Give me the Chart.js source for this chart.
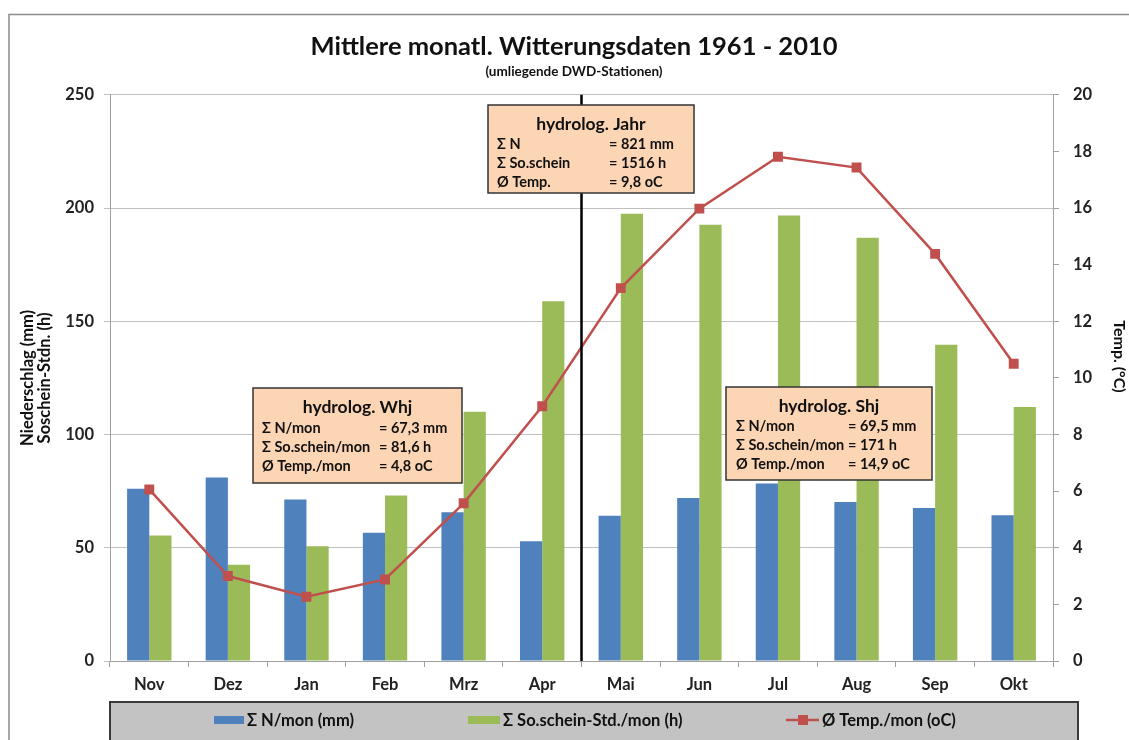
<!DOCTYPE html>
<html>
<head>
<meta charset="utf-8">
<script src="https://cdn.jsdelivr.net/npm/chart.js@4.4.1/dist/chart.umd.min.js"></script>
<style>
  html, body { margin: 0; padding: 0; background: #fff; }
  #wrap { width: 1129px; height: 740px; }
</style>
</head>
<body>
<div id="wrap"><canvas id="chart" width="1129" height="740"></canvas></div>
<script>
// hydrologisches Jahr, Nov - Okt
const months = ['Nov', 'Dez', 'Jan', 'Feb', 'Mrz', 'Apr', 'Mai', 'Jun', 'Jul', 'Aug', 'Sep', 'Okt'];
const niederschlag = [76.1, 81.0, 71.3, 56.6, 65.7, 52.9, 64.1, 72.0, 78.4, 70.2, 67.6, 64.3];
const sonnenschein = [55.4, 42.5, 50.7, 73.1, 110.0, 158.8, 197.5, 192.6, 196.7, 186.9, 139.6, 112.2];
const temperatur = [6.06, 3.0, 2.27, 2.88, 5.57, 9.0, 13.17, 15.98, 17.81, 17.43, 14.38, 10.5];
const leftTicks = [0, 50, 100, 150, 200, 250];
const rightTicks = [0, 2, 4, 6, 8, 10, 12, 14, 16, 18, 20];
const seriesLabels = ['\u03A3 N/mon (mm)', '\u03A3 So.schein-Std./mon (h)', '\u00D8 Temp./mon (oC)'];

const boxJahr = ['hydrolog. Jahr', ['\u03A3 N', '= 821 mm'], ['\u03A3 So.schein', '= 1516 h'], ['\u00D8 Temp.', '= 9,8 oC']];
const boxWhj = ['hydrolog. Whj', ['\u03A3 N/mon', '= 67,3 mm'], ['\u03A3 So.schein/mon', '= 81,6 h'], ['\u00D8 Temp./mon', '= 4,8 oC']];
const boxShj = ['hydrolog. Shj', ['\u03A3 N/mon', '= 69,5 mm'], ['\u03A3 So.schein/mon', '= 171 h'], ['\u00D8 Temp./mon', '= 14,9 oC']];

const BLUE = '#4f81bd';
const GREEN = '#9bbb59';
const RED = '#c0504d';
const FONT = 'Lato, "Open Sans", sans-serif';

// Rahmen, Legende, Trennlinie und Infokästen
const extras = {
    id: 'extras',
    beforeDraw(chart) {
        const ctx = chart.ctx;
        ctx.save();
        ctx.fillStyle = '#fff';
        ctx.fillRect(0, 0, chart.width, chart.height);
        ctx.strokeStyle = '#8a8a8a';
        ctx.lineWidth = 1.5;
        ctx.strokeRect(9, 14.5, chart.width + 20, chart.height + 20);
        ctx.restore();
    },
    afterDatasetsDraw(chart) {
        const ctx = chart.ctx;
        const area = chart.chartArea;
        const x = chart.scales.x;
        ctx.save();

        // Grenze Winter-/Sommerhalbjahr
        const xs = (x.getPixelForValue(5) + x.getPixelForValue(6)) / 2;
        ctx.strokeStyle = '#000';
        ctx.lineWidth = 2.5;
        ctx.beginPath();
        ctx.moveTo(xs, area.top);
        ctx.lineTo(xs, area.bottom);
        ctx.stroke();

        drawBox(ctx, boxJahr, 488, 105, 206, 88, 497, 609, 124, [144, 163, 182]);
        drawBox(ctx, boxWhj, 253, 388, 209, 95, 262, 379, 407, [428, 447, 466]);
        drawBox(ctx, boxShj, 726, 387, 206, 93, 736, 848, 406, [426, 445, 464]);

        // Legende
        const lx = 110, ly = 702, lw = 968;
        ctx.fillStyle = '#c3c3c3';
        ctx.fillRect(lx, ly, lw, 50);
        ctx.strokeStyle = '#3a3a3a';
        ctx.lineWidth = 2;
        ctx.strokeRect(lx, ly, lw, 50);

        const items = chart.data.datasets.map(d => d.label);
        const starts = [214, 468, 786];
        ctx.font = 'bold 16.5px ' + FONT;
        ctx.textBaseline = 'middle';
        ctx.textAlign = 'left';
        const cy = 720;
        ctx.fillStyle = BLUE;
        ctx.fillRect(starts[0], cy - 4, 30, 8);
        ctx.fillStyle = GREEN;
        ctx.fillRect(starts[1], cy - 4, 32, 8);
        ctx.strokeStyle = RED;
        ctx.lineWidth = 2.5;
        ctx.beginPath();
        ctx.moveTo(starts[2], cy);
        ctx.lineTo(starts[2] + 33, cy);
        ctx.stroke();
        ctx.fillStyle = RED;
        ctx.fillRect(starts[2] + 12, cy - 5, 10, 10);
        ctx.fillStyle = '#111';
        ctx.fillText(items[0], starts[0] + 33, cy + 1);
        ctx.fillText(items[1], starts[1] + 35, cy + 1);
        ctx.fillText(items[2], starts[2] + 36, cy + 1);
        ctx.restore();
    }
};

function drawBox(ctx, lines, bx, by, bw, bh, c1, c2, hy, rows) {
    ctx.fillStyle = '#fcd5b4';
    ctx.fillRect(bx, by, bw, bh);
    ctx.strokeStyle = '#333';
    ctx.lineWidth = 1.5;
    ctx.strokeRect(bx, by, bw, bh);
    ctx.fillStyle = '#111';
    ctx.textBaseline = 'middle';
    ctx.textAlign = 'center';
    ctx.font = 'bold 17.5px ' + FONT;
    ctx.fillText(lines[0], bx + bw / 2, hy);
    ctx.textAlign = 'left';
    ctx.font = 'bold 14.5px ' + FONT;
    for (let i = 1; i < lines.length; i++) {
        ctx.fillText(lines[i][0], c1, rows[i - 1]);
        ctx.fillText(lines[i][1], c2, rows[i - 1]);
    }
}

new Chart(document.getElementById('chart'), {
    data: {
        labels: months,
        datasets: [
            {
                type: 'bar',
                label: seriesLabels[0],
                data: niederschlag,
                backgroundColor: BLUE,
                yAxisID: 'y',
                order: 1,
                categoryPercentage: 0.565,
                barPercentage: 1.0
            },
            {
                type: 'bar',
                label: seriesLabels[1],
                data: sonnenschein,
                backgroundColor: GREEN,
                yAxisID: 'y',
                order: 1,
                categoryPercentage: 0.565,
                barPercentage: 1.0
            },
            {
                type: 'line',
                label: seriesLabels[2],
                data: temperatur,
                borderColor: RED,
                backgroundColor: RED,
                borderWidth: 2.5,
                pointStyle: 'rect',
                pointRadius: 7,
                pointBorderWidth: 0,
                tension: 0,
                yAxisID: 'y1',
                order: 0
            }
        ]
    },
    options: {
        responsive: false,
        animation: false,
        layout: {
            padding: { left: 19, right: 0, top: 0, bottom: 39 }
        },
        plugins: {
            legend: { display: false },
            tooltip: { enabled: false },
            title: {
                display: true,
                text: 'Mittlere monatl. Witterungsdaten 1961 - 2010',
                color: '#111',
                font: { family: FONT, size: 25.5, weight: 'bold' },
                padding: { top: 31, bottom: 0 }
            },
            subtitle: {
                display: true,
                text: '(umliegende DWD-Stationen)',
                color: '#111',
                font: { family: FONT, size: 13.5, weight: 'bold' },
                padding: { top: 2, bottom: 15 }
            }
        },
        scales: {
            x: {
                offset: true,
                grid: {
                    offset: true,
                    drawOnChartArea: false,
                    tickLength: 6,
                    color: '#a0a0a0'
                },
                border: { color: '#a0a0a0' },
                ticks: {
                    color: '#222',
                    padding: 8,
                    font: { family: FONT, size: 16.5, weight: 'bold' }
                },
                afterFit(scale) { scale.height = 40; }
            },
            y: {
                position: 'left',
                min: 0,
                max: 250,
                afterBuildTicks(scale) { scale.ticks = leftTicks.map(v => ({ value: v })); },
                grid: { color: '#c0c0c0', tickLength: 6 },
                border: { color: '#a0a0a0' },
                ticks: {
                    color: '#222',
                    padding: 10,
                    font: { family: FONT, size: 16.5, weight: 'bold' }
                },
                title: {
                    display: true,
                    text: ['Niederschlag (mm)', 'Soschein-Stdn. (h)'],
                    color: '#111',
                    font: { family: FONT, size: 16.5, weight: 'bold', lineHeight: 1.05 },
                    padding: { top: 0, bottom: 0 }
                },
                afterFit(scale) { scale.width = 91; }
            },
            y1: {
                position: 'right',
                min: 0,
                max: 20,
                afterBuildTicks(scale) { scale.ticks = rightTicks.map(v => ({ value: v })); },
                grid: { drawOnChartArea: false, color: '#a0a0a0', tickLength: 6 },
                border: { color: '#a0a0a0' },
                ticks: {
                    color: '#222',
                    padding: 14,
                    font: { family: FONT, size: 16.5, weight: 'bold' }
                },
                title: {
                    display: true,
                    text: 'Temp. (\u00B0C)' + '\u00A0'.repeat(11),
                    color: '#111',
                    font: { family: FONT, size: 16, weight: 'bold' },
                    padding: { top: 0, bottom: 2 }
                },
                afterFit(scale) { scale.width = 76; }
            }
        }
    },
    plugins: [extras]
});
</script>
</body>
</html>
